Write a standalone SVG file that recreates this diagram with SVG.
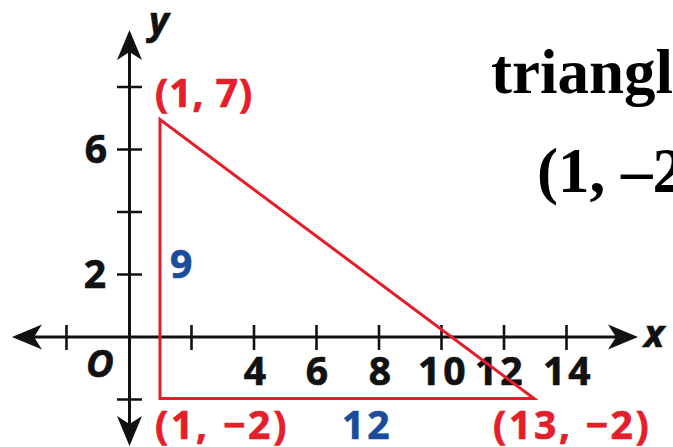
<svg xmlns="http://www.w3.org/2000/svg" width="673" height="447" viewBox="0 0 673 447">
  <style>
    .axis { stroke: #111; stroke-width: 3; fill: none; }
    .tick { stroke: #111; stroke-width: 2.6; fill: none; }
    .tri { stroke: #e41e2a; stroke-width: 3; fill: none; stroke-linejoin: miter; }
    .num { font-family: "Open Sans", "DejaVu Sans", sans-serif; font-weight: bold; font-size: 39px; fill: #111; stroke: #111; stroke-width: 0.7; }
    .ital { font-family: "Open Sans", "DejaVu Sans", sans-serif; font-weight: bold; font-style: italic; font-size: 38px; fill: #111; stroke: #111; stroke-width: 0.7; }
    .pt { font-family: "Open Sans", "DejaVu Sans", sans-serif; font-weight: bold; font-size: 39px; fill: #e41e2a; stroke: #e41e2a; stroke-width: 0.7; }
    .len { font-family: "Open Sans", "DejaVu Sans", sans-serif; font-weight: bold; font-size: 39px; fill: #1b4c9c; stroke: #1b4c9c; stroke-width: 0.7; }
    .body { font-family: "Liberation Serif", "Times New Roman", serif; font-weight: bold; font-size: 63px; fill: #000; }
  </style>
  <defs>
    <marker id="arr" viewBox="-21 -14 32 28" markerWidth="32" markerHeight="28" refX="0" refY="0" markerUnits="userSpaceOnUse" orient="auto-start-reverse">
      <path d="M10,0 L-20,-12.5 L-12,0 L-20,12.5 Z" fill="#111"/>
    </marker>
  </defs>
  <rect width="673" height="447" fill="#fff"/>

  <g id="axes">
    <line class="axis" x1="22" y1="337" x2="628" y2="337" marker-start="url(#arr)" marker-end="url(#arr)"/>
    <line class="axis" x1="129.5" y1="436" x2="129.5" y2="40" marker-start="url(#arr)" marker-end="url(#arr)"/>
  </g>

  <g id="ticks">
    <path class="tick" d="M117,87H142 M117,149.5H142 M117,212H142 M117,274.5H142 M117,399.5H142"/>
    <path class="tick" d="M66.5,325V350 M191.5,325V350 M254,325V350 M316.5,325V350 M379,325V350 M441.5,325V350 M504,325V350 M566.5,325V350"/>
  </g>

  <g id="tick-labels">
    <text class="num" x="107" y="162.5" text-anchor="end">6</text>
    <text class="num" x="106" y="287.5" text-anchor="end">2</text>
    <text class="num" x="255" y="385" text-anchor="middle">4</text>
    <text class="num" x="317" y="385" text-anchor="middle">6</text>
    <text class="num" x="380" y="385" text-anchor="middle">8</text>
    <text class="num" x="418" y="385" letter-spacing="3">10</text>
    <text class="num" x="475" y="385" letter-spacing="3">12</text>
    <text class="num" x="543" y="385" letter-spacing="3">14</text>
  </g>

  <g id="axis-labels">
    <text class="ital" x="149" y="34">y</text>
    <text class="ital" x="644" y="347" font-size="36">x</text>
    <text class="ital" x="86" y="377" font-size="40">O</text>
  </g>

  <g id="triangle">
    <polygon class="tri" points="160,119.5 160,398.5 534,398.5"/>
  </g>

  <g id="vertex-labels">
    <text class="pt" x="155" y="107" letter-spacing="1">(1, 7)</text>
    <text class="pt" x="155" y="439" letter-spacing="2.8">(1, −2)</text>
    <text class="pt" x="493" y="439" letter-spacing="2.7">(13, −2)</text>
  </g>

  <g id="side-labels">
    <text class="len" x="170" y="278">9</text>
    <text class="len" x="342" y="439" letter-spacing="3">12</text>
  </g>

  <g id="question-text">
    <text class="body" x="491" y="93">triangl</text>
    <text class="body" x="537" y="192">(1, –2</text>
  </g>
</svg>
